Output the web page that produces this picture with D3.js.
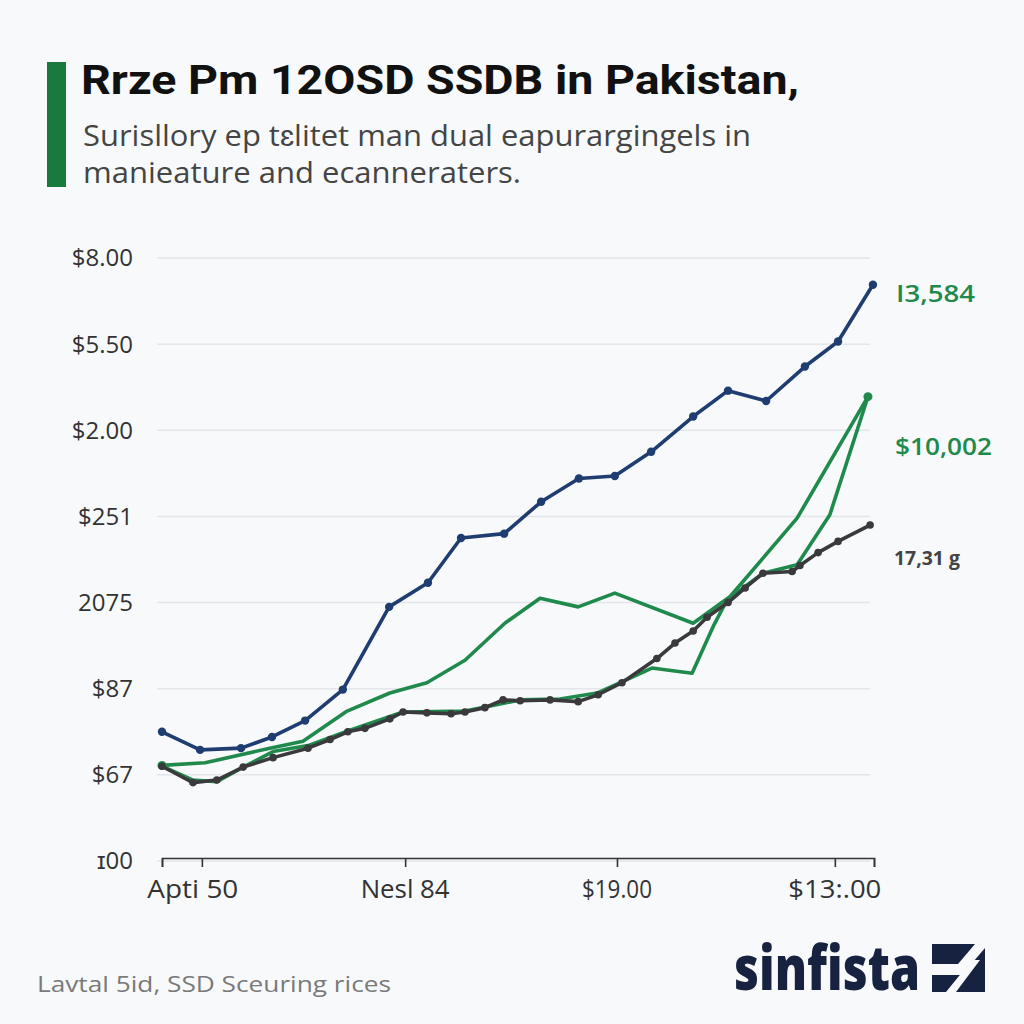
<!DOCTYPE html>
<html><head><meta charset="utf-8">
<script src="https://cdn.jsdelivr.net/npm/d3@7"></script>
<style>body{margin:0;background:#f7f9fb;}svg{display:block;font-family:"Open Sans",sans-serif;}</style>
</head><body>
<script>
// ---- data ----
const yTickLabels = ["\u026A00", "$67", "$87", "2075", "$251", "$2.00", "$5.50", "$8.00"];
const xTickPos = [1.12, 6.83, 12.78, 18.9];
const xTickLabels = ["Apti 50", "Nesl 84", "$19.00", "$13:.00"];

const blueX = [0, 1.07, 2.22, 3.09, 4.02, 5.08, 6.38, 7.47, 8.40, 9.61, 10.65, 11.71, 12.72, 13.74, 14.92, 15.90, 16.97, 18.06, 18.99, 19.97];
const blueY = [1.50, 1.29, 1.31, 1.44, 1.63, 1.99, 2.95, 3.23, 3.75, 3.80, 4.17, 4.44, 4.47, 4.75, 5.16, 5.46, 5.34, 5.74, 6.03, 6.69];

const greenAX = [0, 1.21, 3.03, 3.96, 5.20, 6.40, 7.44, 8.51, 9.63, 10.62, 11.69, 12.72, 14.92, 15.96, 17.84, 19.83];
const greenAY = [1.11, 1.14, 1.31, 1.39, 1.74, 1.95, 2.07, 2.33, 2.76, 3.05, 2.95, 3.11, 2.76, 3.07, 3.98, 5.39];

const greenBX = [0, 0.87, 1.54, 2.28, 3.12, 4.10, 5.22, 6.77, 8.51, 10.06, 11.18, 12.22, 12.87, 13.76, 14.89, 15.48, 15.87, 16.88, 17.84, 18.76, 19.83];
const greenBY = [1.10, 0.94, 0.92, 1.09, 1.27, 1.34, 1.51, 1.73, 1.74, 1.87, 1.88, 1.95, 2.07, 2.24, 2.18, 2.72, 3.03, 3.34, 3.44, 4.02, 5.39];

const blackX = [0, 0.87, 1.54, 2.28, 3.12, 4.10, 4.72, 5.22, 5.70, 6.40, 6.77, 7.44, 8.12, 8.51, 9.07, 9.58, 10.06, 10.90, 11.69, 12.25, 12.92, 13.90, 14.41, 14.92, 15.31, 15.90, 16.38, 16.88, 17.70, 17.92, 18.43, 18.99, 19.89];
const blackY = [1.10, 0.91, 0.94, 1.09, 1.20, 1.31, 1.41, 1.50, 1.54, 1.65, 1.73, 1.72, 1.71, 1.73, 1.78, 1.87, 1.86, 1.87, 1.85, 1.93, 2.07, 2.35, 2.53, 2.67, 2.83, 3.00, 3.17, 3.34, 3.36, 3.43, 3.58, 3.71, 3.90];

const endLabels = ["I3,584", "$10,002", "17,31 g"];
const title = "Rrze Pm 12OSD SSDB in Pakistan,";
const subtitle = ["Surisllory ep t\u025Blitet man dual eapurargingels in", "manieature and ecanneraters."];
const source = "Lavtal 5id, SSD Sceuring rices";
const logoText = "sinfista";

// ---- chart ----
const W = 1024, H = 1024;
const svg = d3.select("body").append("svg").attr("width", W).attr("height", H);
svg.append("rect").attr("width", W).attr("height", H).attr("fill", "#f7f9fb");

const x = d3.scaleLinear().domain([0, 20]).range([162, 874]);
const y = d3.scaleLinear().domain([0, 7]).range([861, 258]);

// header
svg.append("rect").attr("x", 47).attr("y", 62).attr("width", 19).attr("height", 125).attr("fill", "#1a7a3e");
svg.append("text").attr("x", 81).attr("y", 94).attr("font-size", 41).attr("font-weight", 700)
  .attr("font-family", "Roboto, sans-serif")
  .attr("fill", "#111").attr("textLength", 718).attr("lengthAdjust", "spacingAndGlyphs").text(title);
subtitle.forEach((s, i) => {
  svg.append("text").attr("x", 83).attr("y", 146 + i * 37).attr("font-size", 29).attr("fill", "#454545")
    .attr("textLength", i === 0 ? 668 : 438).attr("lengthAdjust", "spacingAndGlyphs").text(s);
});

// grid
const grid = svg.append("g");
d3.range(yTickLabels.length).forEach(i => {
  grid.append("line").attr("x1", x(0) - 5).attr("x2", x(20) - 4).attr("y1", y(i)).attr("y2", y(i))
    .attr("stroke", "#e3e6ea").attr("stroke-width", 1.5);
  grid.append("text").attr("x", 133).attr("y", y(i)).attr("dy", "0.35em").attr("text-anchor", "end")
    .attr("font-size", 24).attr("fill", "#333").text(yTickLabels[i]);
});

// x axis
const xAxis = d3.axisBottom(x).tickValues([0, ...xTickPos, 20]).tickSize(9).tickFormat("");
const gx = svg.append("g").attr("transform", "translate(0,858)").call(xAxis);
gx.select(".domain").attr("stroke", "#333").attr("stroke-width", 1.6);
gx.selectAll(".tick line").attr("stroke", "#333").attr("stroke-width", 1.6);
const xLabW = [91, 89, 70, 93];
xTickPos.forEach((p, i) => {
  svg.append("text").attr("x", x(p) + (i === 0 ? -9 : 0)).attr("y", 898).attr("text-anchor", "middle")
    .attr("font-size", 25).attr("fill", "#333")
    .attr("textLength", xLabW[i]).attr("lengthAdjust", "spacingAndGlyphs").text(xTickLabels[i]);
});

// lines
const line = d3.line().x(d => x(d[0])).y(d => y(d[1]));
function series(xs, ys, color, markers, r) {
  const pts = xs.map((v, i) => [v, ys[i]]);
  svg.append("path").datum(pts).attr("d", line).attr("fill", "none").attr("stroke", color)
    .attr("stroke-width", 3.6).attr("stroke-linejoin", "round");
  if (markers) svg.append("g").selectAll("circle").data(pts).join("circle")
    .attr("cx", d => x(d[0])).attr("cy", d => y(d[1])).attr("r", r).attr("fill", color);
  return pts;
}
series(greenBX, greenBY, "#1f8a4c", false);
series(greenAX, greenAY, "#1f8a4c", false);
svg.append("circle").attr("cx", x(greenAX[greenAX.length - 1])).attr("cy", y(greenAY[greenAY.length - 1])).attr("r", 4.5).attr("fill", "#1f8a4c");
svg.append("circle").attr("cx", x(greenAX[0])).attr("cy", y(greenAY[0])).attr("r", 4.5).attr("fill", "#1f8a4c");
series(blackX, blackY, "#3a3a3c", true, 3.8);
series(blueX, blueY, "#1f3d70", true, 4.2);

// end labels
svg.append("text").attr("x", 896).attr("y", 294).attr("dy", "0.35em").attr("font-size", 23).attr("font-weight", 600)
  .attr("fill", "#1f8a4c").attr("textLength", 79).attr("lengthAdjust", "spacingAndGlyphs").text(endLabels[0]);
svg.append("text").attr("x", 895).attr("y", 447).attr("dy", "0.35em").attr("font-size", 24).attr("font-weight", 600)
  .attr("fill", "#1f8a4c").attr("textLength", 97).attr("lengthAdjust", "spacingAndGlyphs").text(endLabels[1]);
svg.append("text").attr("x", 894).attr("y", 558).attr("dy", "0.35em").attr("font-size", 20).attr("font-weight", 700)
  .attr("fill", "#444").attr("textLength", 66).attr("lengthAdjust", "spacingAndGlyphs").text(endLabels[2]);

// footer
svg.append("text").attr("x", 37).attr("y", 992).attr("font-size", 22).attr("fill", "#7a7a7a")
  .attr("textLength", 354).attr("lengthAdjust", "spacingAndGlyphs").text(source);
svg.append("text").attr("x", 734).attr("y", 990).attr("font-size", 62).attr("font-weight", 800)
  .attr("fill", "#16223f").attr("textLength", 186).attr("lengthAdjust", "spacingAndGlyphs").text(logoText);
const lg = svg.append("g");
lg.append("rect").attr("x", 932).attr("y", 944).attr("width", 53).attr("height", 48).attr("fill", "#16223f");
lg.append("polygon").attr("points", "932,964 958,964 975,944 985,944 985,948 962,975 932,975").attr("fill", "#f7f9fb");
lg.append("polygon").attr("points", "946,992 972,960 980,960 956,992").attr("fill", "#f7f9fb");
</script>
</body></html>
